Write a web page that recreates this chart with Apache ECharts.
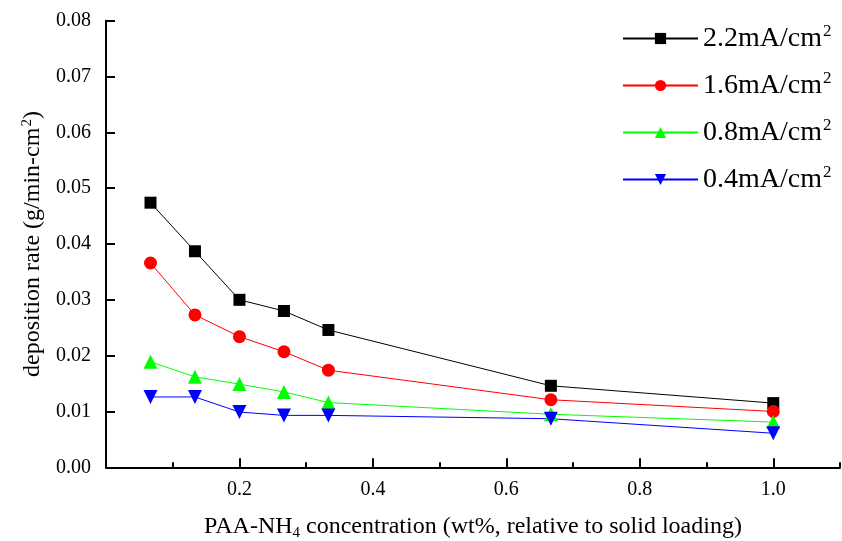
<!DOCTYPE html>
<html><head><meta charset="utf-8">
<script src="https://cdn.jsdelivr.net/npm/echarts@6/dist/echarts.min.js"></script>
<style>html,body{margin:0;padding:0;background:#fff}#c{width:842px;height:541px}</style>
</head><body><div id="c"></div>
<script>
const xValues = [0.0667, 0.1333, 0.2, 0.2667, 0.3333, 0.6667, 1.0];
const seriesNames = ['2.2mA/cm2', '1.6mA/cm2', '0.8mA/cm2', '0.4mA/cm2'];
const s22 = [0.0474, 0.0387, 0.0300, 0.0280, 0.0246, 0.0146, 0.0115];
const s16 = [0.0366, 0.0273, 0.0234, 0.0207, 0.0174, 0.0121, 0.0100];
const s08 = [0.0189, 0.0162, 0.0149, 0.0135, 0.0116, 0.0095, 0.0081];
const s04 = [0.0126, 0.0126, 0.0099, 0.0093, 0.0093, 0.0087, 0.0061];
const xMajorTicks = [0.2, 0.4, 0.6, 0.8, 1.0];
const xMinorTicks = [0.1, 0.3, 0.5, 0.7, 0.9, 1.1];

const FONT = 'Liberation Serif';
const pair = arr => xValues.map((x, i) => [x, arr[i]]);
const chart = echarts.init(document.getElementById('c'), null, {renderer: 'canvas'});

const mk = (name, data, color, symbol, size, rot) => ({
  name, type: 'line', data: pair(data), xAxisIndex: 0,
  symbol, symbolSize: size, symbolRotate: rot || 0,
  lineStyle: {color, width: 1}, itemStyle: {color},
  emphasis: {disabled: true}, animation: false
});

chart.setOption({
  animation: false,
  backgroundColor: '#fff',
  grid: {left: 106, right: 2, top: 20.7, bottom: 73.7, containLabel: false, outerBoundsMode: 'none'},
  legend: {
    orient: 'vertical', left: 617, top: 18, itemWidth: 75, itemHeight: 14, itemGap: 16,
    data: seriesNames,
    formatter: n => '{b|' + n.slice(0, -1) + '}{s|' + n.slice(-1) + '}',
    textStyle: {
      fontFamily: FONT, color: '#000',
      rich: {
        b: {fontFamily: FONT, fontSize: 28, lineHeight: 32, color: '#000'},
        s: {fontFamily: FONT, fontSize: 17, lineHeight: 32, color: '#000', padding: [0, 0, 14, 1]}
      }
    }
  },
  xAxis: [{
    type: 'value', min: 0, max: 1.1, position: 'bottom',
    name: '{b|PAA-NH}{u|4}{b| concentration (wt%, relative to solid loading)}',
    nameLocation: 'middle', nameGap: 46,
    nameTextStyle: {
      fontFamily: FONT, color: '#000',
      rich: {
        b: {fontFamily: FONT, fontSize: 24, color: '#000'},
        u: {fontFamily: FONT, fontSize: 15, color: '#000', padding: [12, 0, 0, 0]}
      }
    },
    axisLine: {show: true, lineStyle: {color: '#000', width: 2}},
    axisTick: {show: true, inside: true, length: 9, customValues: xMajorTicks, lineStyle: {color: '#000', width: 2}},
    axisLabel: {customValues: xMajorTicks, formatter: v => v.toFixed(1), margin: 12, fontFamily: FONT, fontSize: 20, color: '#000'},
    splitLine: {show: false}
  }, {
    type: 'value', min: 0, max: 1.1, position: 'bottom', offset: 0,
    axisLine: {show: false},
    axisTick: {show: true, inside: true, length: 5, customValues: xMinorTicks, lineStyle: {color: '#000', width: 2}},
    axisLabel: {show: false},
    splitLine: {show: false}
  }],
  yAxis: {
    type: 'value', min: 0, max: 0.08, interval: 0.01,
    name: '{b|deposition rate (g/min-cm}{s|2}{b|)}',
    nameLocation: 'middle', nameGap: 58, nameRotate: 90,
    nameTextStyle: {
      fontFamily: FONT, color: '#000',
      rich: {
        b: {fontFamily: FONT, fontSize: 24, color: '#000'},
        s: {fontFamily: FONT, fontSize: 15, color: '#000', padding: [0, 0, 12, 1]}
      }
    },
    axisLine: {show: true, lineStyle: {color: '#000', width: 2}},
    axisTick: {show: true, inside: true, length: 9, lineStyle: {color: '#000', width: 2}},
    axisLabel: {formatter: v => v.toFixed(2), margin: 15, fontFamily: FONT, fontSize: 20, color: '#000'},
    splitLine: {show: false}
  },
  series: [
    mk(seriesNames[0], s22, '#000000', 'rect', 12),
    mk(seriesNames[1], s16, '#ff0000', 'circle', 13),
    mk(seriesNames[2], s08, '#00ff00', 'triangle', 14),
    mk(seriesNames[3], s04, '#0000ff', 'triangle', 14, 180)
  ]
});
</script></body></html>
